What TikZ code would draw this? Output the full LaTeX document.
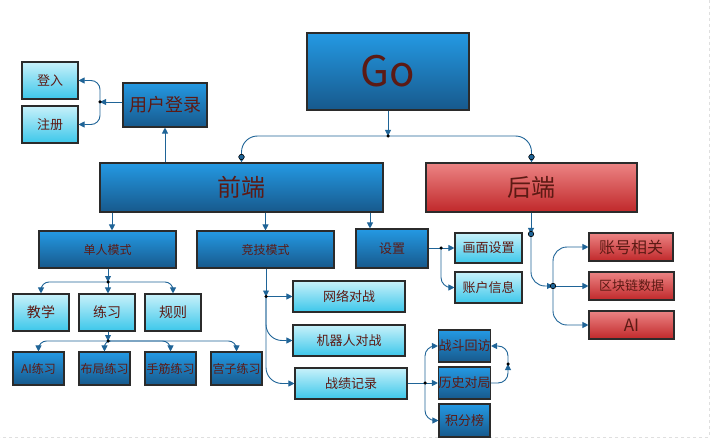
\documentclass[tikz,border=0pt]{standalone}
\usepackage{fontspec}
\setmainfont{Noto Sans CJK SC}
\usetikzlibrary{arrows.meta,calc}
\definecolor{dbt}{HTML}{2499E3}
\definecolor{dbb}{HTML}{17598C}
\definecolor{cyt}{HTML}{C8F1FA}
\definecolor{cyb}{HTML}{3CC7EA}
\definecolor{rdt}{HTML}{EC8484}
\definecolor{rdb}{HTML}{C0282A}
\definecolor{txt}{HTML}{5C1A14}
\definecolor{conc}{HTML}{1F6497}
\definecolor{bord}{HTML}{2B2B2B}
\tikzset{
  box/.style={draw=bord, line width=1.1pt, inner sep=0pt, text=txt, align=center},
  dbox/.style={box, top color=dbt, bottom color=dbb},
  cbox/.style={box, top color=cyt, bottom color=cyb},
  rbox/.style={box, top color=rdt, bottom color=rdb},
  sz/.style 2 args={minimum width=#1pt, minimum height=#2pt},
  conn/.style={draw=conc, line width=0.9pt, -{Triangle[width=6pt,length=6pt]}},
  link/.style={draw=conc, line width=0.9pt},
  bdot/.style={circle, fill=conc, draw=black, line width=0.6pt, inner sep=0pt, minimum size=5.5pt},
  sdot/.style={circle, fill=black, inner sep=0pt, minimum size=3.5pt}
}
\begin{document}
\begin{tikzpicture}[x=1pt,y=-1pt]
\useasboundingbox (0,0) rectangle (714,446);
\draw[gray!25, dashed, line width=0.8pt] (709,0) -- (709,437) -- (0,437);
% nodes
\node[dbox, sz={162}{77}, font=\fontsize{42}{44}\selectfont] (go) at (388,71.5) {Go};
\node[dbox, sz={84}{44}, font=\fontsize{18}{20}\selectfont] (yh) at (165,105) {用户登录};
\node[cbox, sz={56}{37}, font=\fontsize{13}{15}\selectfont] (dr) at (50,80.5) {登入};
\node[cbox, sz={56}{37}, font=\fontsize{13}{15}\selectfont] (zc) at (50,124.5) {注册};
\node[dbox, sz={283}{49}, font=\fontsize{24}{26}\selectfont] (qd) at (241.5,187.5) {前端};
\node[rbox, sz={211}{49}, font=\fontsize{24}{26}\selectfont] (hd) at (531.5,187.5) {后端};
\node[dbox, sz={137}{37}, font=\fontsize{12}{14}\selectfont] (dm) at (107.5,249.5) {单人模式};
\node[dbox, sz={137}{37}, font=\fontsize{12}{14}\selectfont] (jj) at (265.5,249.5) {竞技模式};
\node[dbox, sz={72}{39}, font=\fontsize{13}{15}\selectfont] (st) at (392,248.5) {设置};
\node[cbox, sz={67}{30}, font=\fontsize{13}{15}\selectfont] (hm) at (488.5,248) {画面设置};
\node[cbox, sz={67}{31}, font=\fontsize{13}{15}\selectfont] (zh) at (488.5,287.5) {账户信息};
\node[rbox, sz={84}{28}, font=\fontsize{16}{18}\selectfont] (zx) at (631,247) {账号相关};
\node[rbox, sz={85}{28}, font=\fontsize{13}{15}\selectfont] (qk) at (631.5,286) {区块链数据};
\node[rbox, sz={85}{28}, font=\fontsize{17}{19}\selectfont] (ai) at (631.5,325) {AI};
\node[cbox, sz={56}{37}, font=\fontsize{14}{16}\selectfont] (jx) at (41,312.5) {教学};
\node[cbox, sz={56}{37}, font=\fontsize{14}{16}\selectfont] (lx) at (107,312.5) {练习};
\node[cbox, sz={56}{37}, font=\fontsize{14}{16}\selectfont] (gz) at (173,312.5) {规则};
\node[dbox, sz={51}{33}, font=\fontsize{12}{14}\selectfont] (ail) at (38.5,368.5) {AI练习};
\node[dbox, sz={51}{33}, font=\fontsize{12}{14}\selectfont] (bj) at (104.5,368.5) {布局练习};
\node[dbox, sz={51}{33}, font=\fontsize{12}{14}\selectfont] (sj) at (170.5,368.5) {手筋练习};
\node[dbox, sz={51}{33}, font=\fontsize{12}{14}\selectfont] (gzl) at (236.5,368.5) {宫子练习};
\node[cbox, sz={112}{31}, font=\fontsize{13}{15}\selectfont] (wl) at (349,296.5) {网络对战};
\node[cbox, sz={112}{31}, font=\fontsize{13}{15}\selectfont] (jq) at (349,340.5) {机器人对战};
\node[cbox, sz={112}{31}, font=\fontsize{13}{15}\selectfont] (zj) at (351,383.5) {战绩记录};
\node[dbox, sz={51}{32}, font=\fontsize{13}{15}\selectfont] (zd) at (464.5,346) {战斗回访};
\node[dbox, sz={51}{32}, font=\fontsize{13}{15}\selectfont] (ls) at (464.5,383) {历史对局};
\node[dbox, sz={51}{33}, font=\fontsize{13}{15}\selectfont] (jf) at (464.5,420.5) {积分榜};
% junctions and anchor points
\coordinate (jgo) at (388,136);
\coordinate (jyh) at (100,102);
\coordinate (jdm) at (108,282);
\coordinate (jlx) at (108,341);
\coordinate (jjj) at (266,296.5);
\coordinate (jzj) at (425,383);
\coordinate (jls) at (508,364);
\coordinate (jst) at (441,248);
\coordinate (jhd) at (553,286);
\coordinate (hdd) at (531,234);
\coordinate (dmin) at ([xshift=4.5pt]dm.north);
\coordinate (stin) at ([xshift=-22pt]st.north);
% connectors
\draw[conn] (go.south) -- (jgo);
\draw[conn, rounded corners=16pt] (jgo) -| (qd.north);
\draw[conn, rounded corners=16pt] (jgo) -| (hd.north);
\draw[conn] (qd.north -| yh.south) -- (yh.south);
\draw[conn] (yh.west |- jyh) -- (jyh);
\draw[conn, rounded corners=9pt] (jyh) |- (dr.east);
\draw[conn, rounded corners=9pt] (jyh) |- (zc.east);
\draw[conn] (qd.south -| dmin) -- (dmin);
\draw[conn] (qd.south -| jj.north) -- (jj.north);
\draw[conn] (qd.south -| stin) -- (stin);
\draw[conn] (dm.south -| jdm) -- (jdm);
\draw[conn, rounded corners=8pt] (jdm) -| (jx.north);
\draw[conn] (jdm) -- (lx.north -| jdm);
\draw[conn, rounded corners=8pt] (jdm) -| (gz.north);
\draw[conn] (lx.south -| jlx) -- (jlx);
\draw[conn, rounded corners=8pt] (jlx) -| (ail.north);
\draw[conn, rounded corners=6pt] (jlx) -| (bj.north);
\draw[conn, rounded corners=8pt] (jlx) -| (sj.north);
\draw[conn, rounded corners=8pt] (jlx) -| (gzl.north);
\draw[conn] (jj.south -| jjj) -- (jjj);
\draw[conn] (jjj) -- (wl.west);
\draw[conn, rounded corners=16pt] (jjj) |- (jq.west);
\draw[conn, rounded corners=16pt] (jjj) |- (zj.west);
\draw[link] (zj.east |- jzj) -- (jzj);
\draw[conn] (jzj) -- (ls.west);
\draw[conn, rounded corners=10pt] (jzj) |- (zd.west);
\draw[conn, rounded corners=10pt] (jzj) |- (jf.west);
\draw[conn, rounded corners=10pt] (ls.east) -| (jls);
\draw[conn, rounded corners=10pt] (jls) |- (zd.east);
\draw[link] (st.east |- jst) -- (jst);
\draw[conn] (jst) -- (hm.west);
\draw[conn, rounded corners=10pt] (jst) |- (zh.west);
\draw[conn] (hd.south -| hdd) -- (hdd);
\draw[conn, rounded corners=14pt] (hdd) |- (jhd);
\draw[conn, rounded corners=14pt] (jhd) |- (zx.west);
\draw[conn] (jhd) -- (qk.west);
\draw[conn, rounded corners=14pt] (jhd) |- (ai.west);
% dots
\node[sdot] at (jgo) {};
\node[bdot] at (241.5,157) {};
\node[bdot] at (531.5,157) {};
\node[bdot] at (hdd) {};
\node[bdot] at (jhd) {};
\node[sdot] at (jyh) {};
\node[sdot] at (jdm) {};
\node[sdot] at (jlx) {};
\node[sdot] at (jjj) {};
\node[sdot] at (jzj) {};
\node[sdot] at (jls) {};
\node[sdot] at (jst) {};
\end{tikzpicture}
\end{document}
